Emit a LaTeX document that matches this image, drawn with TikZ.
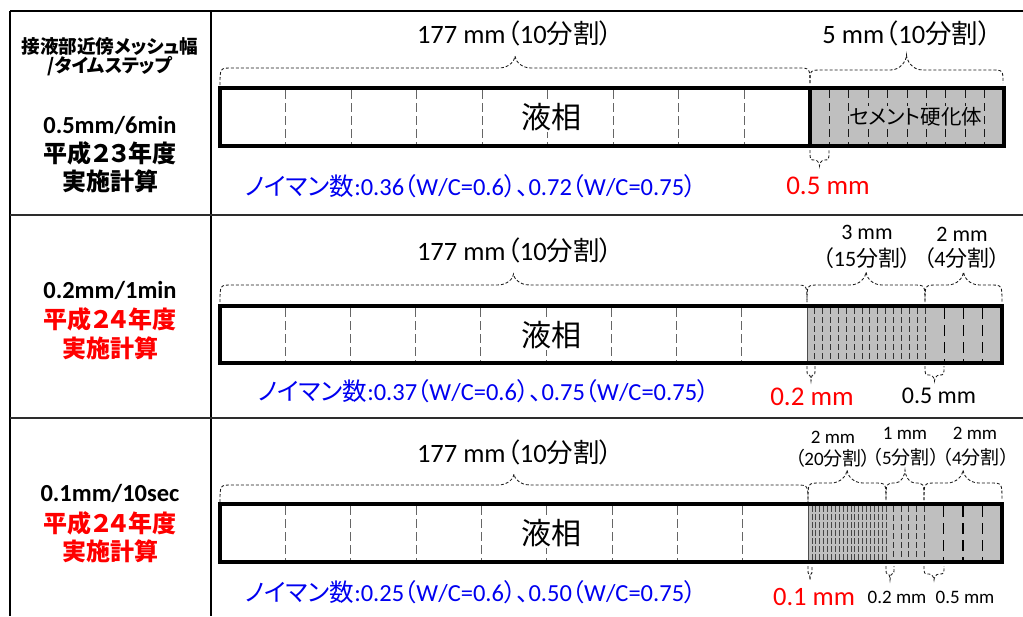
\documentclass[tikz,border=0pt]{standalone}
\usepackage{fontspec}
\setmainfont{Carlito}
\newfontfamily\jp[RawFeature=+palt]{Noto Sans CJK JP}
\definecolor{nblue}{RGB}{0,0,240}
\definecolor{nred}{RGB}{255,0,0}
\definecolor{cem}{RGB}{191,191,191}
\newcommand\fsz[1]{\fontsize{#1}{#1}\selectfont}
\newcommand\dbrace[5]{%
 \pgfmathsetmacro\bxm{(#1+#2)/2}%
 \pgfmathsetmacro\br{min(12,(#2-#1)/4)}%
 \pgfmathsetmacro\bp{min(16,(#2-#1)/4)}%
 \pgfmathsetmacro\bya{#4+0.65*(#5-#4)}%
 \draw[bracesty] (#1,#3) .. controls (#1,#4) .. ({#1+\br},#4) -- ({\bxm-\bp},#4)
   .. controls ({\bxm-0.35*\bp},#4) and (\bxm,\bya) .. (\bxm,#5)
   .. controls (\bxm,\bya) and ({\bxm+0.35*\bp},#4) .. ({\bxm+\bp},#4)
   -- ({#2-\br},#4) .. controls (#2,#4) .. (#2,#3);}
\begin{document}
\begin{tikzpicture}[x=1pt,y=-1pt,
  bar/.style={draw=black,line width=3.5pt},
  liq/.style={draw=gray!80!black,line width=1pt,dash pattern=on 9pt off 4pt},
  cemd/.style={draw=gray!20!black,line width=0.9pt,dash pattern=on 8pt off 5pt},
  ftwo/.style={draw=gray!40!black,line width=0.9pt,dash pattern=on 6pt off 3pt},
  fone/.style={draw=gray!55!black,line width=0.7pt,dash pattern=on 6pt off 2pt},
  ffive/.style={draw=black,line width=1.1pt,dash pattern=on 11pt off 6pt},
  bracesty/.style={draw=gray!20!black,line width=0.85pt,dash pattern=on 3pt off 2pt},
  tline/.style={draw=black,line width=1.2pt},
  rowsep/.style={draw=gray!35!black,line width=2pt},
  lbl/.style={inner sep=0pt},
  nm/.style={inner sep=0pt,anchor=west,text=nblue,font=\fsz{24.5}}]
\useasboundingbox (0,0) rectangle (1023,616);
% table
\draw[tline] (10,11) -- (1023,11);
\draw[tline] (10,11) -- (10,616);
\draw[tline] (211,11) -- (211,616);
\draw[rowsep] (10,215) -- (1023,215);
\draw[rowsep] (10,418) -- (1023,418);
% left column
\node[lbl] (h1) at (110,47) {\jp\bfseries\fsz{18.6}接液部近傍メッシュ幅};
\node[lbl] (h2) at (110,66) {\jp\bfseries\fsz{18.6}/タイムステップ};
\node[lbl] (a1) at (110,125) {\bfseries\fsz{24.5}0.5mm/6min};
\node[lbl] (a2) at (110,153) {\jp\bfseries\fsz{24}平成２３年度};
\node[lbl] (a3) at (110,181) {\jp\bfseries\fsz{24}実施計算};
\node[lbl] (b1) at (110,290) {\bfseries\fsz{24.5}0.2mm/1min};
\node[lbl,text=nred] (b2) at (110,319) {\jp\bfseries\fsz{24}平成２４年度};
\node[lbl,text=nred] (b3) at (110,348) {\jp\bfseries\fsz{24}実施計算};
\node[lbl] (c1) at (110,493) {\bfseries\fsz{24.5}0.1mm/10sec};
\node[lbl,text=nred] (c2) at (110,523) {\jp\bfseries\fsz{24}平成２４年度};
\node[lbl,text=nred] (c3) at (110,551) {\jp\bfseries\fsz{24}実施計算};
% ---------- row 1
\fill[cem] (810,88) rectangle (1004,146);
\foreach \k in {1,...,8} \draw[liq] ({220+\k*590/9},90) -- ({220+\k*590/9},144);
\foreach \k in {1,...,9} \draw[cemd] ({810+\k*19.4},90) -- ({810+\k*19.4},144);
\draw[bar] (220,88) rectangle (810,146);
\draw[bar] (810,88) rectangle (1004,146);
\node[fill=white,inner sep=1pt] (l1) at (551,117) {\jp\fsz{30}液相};
\node[fill=cem,inner xsep=0pt,inner ysep=2pt] (s1) at (916,117) {\jp\fsz{20.5}セメント硬化体};
\dbrace{220}{810}{85}{68}{56}
\dbrace{810}{1003}{83}{70}{55}
\dbrace{810}{829}{150}{160}{166}
\node[lbl] (t1) at (515,33) {\fsz{26.5}177 mm\kern1pt{\jp （}10{\jp 分割）}};
\node[lbl] (u1) at (907,33) {\fsz{26.5}5 mm\kern1pt{\jp （}10{\jp 分割）}};
\node[lbl,text=nred] (r1) at (828,186) {\fsz{27}0.5 mm};
\node[nm] (n1) at (245,186) {{\jp ノイマン数}:0.36{\jp （}W/C=0.6{\jp ）、}0.72{\jp （}W/C=0.75{\jp ）}};
% ---------- row 2
\fill[cem] (807,306) rectangle (1002,363);
\foreach \k in {1,...,8} \draw[liq] ({220+\k*587/9},308) -- ({220+\k*587/9},361);
\foreach \k in {1,...,15} \draw[ftwo] ({807+\k*118/15},308) -- ({807+\k*118/15},361);
\foreach \k in {1,...,3} \draw[ffive] ({925+\k*77/4},308) -- ({925+\k*77/4},361);
\draw[bar] (220,306) rectangle (1002,363);
\draw[gray!60!black,line width=1pt] (807,308) -- (807,361);
\node[fill=white,inner sep=1pt] (l2) at (551,335) {\jp\fsz{30}液相};
\dbrace{220}{807}{302}{285}{274}
\dbrace{807}{925}{302}{285}{272}
\dbrace{925}{1002}{302}{285}{272}
\dbrace{807}{815}{366}{375}{381}
\dbrace{925}{944}{366}{375}{381}
\node[lbl] (t2) at (515,250) {\fsz{26.5}177 mm\kern1pt{\jp （}10{\jp 分割）}};
\node[lbl] (p2a) at (867,232) {\fsz{22}3 mm};
\node[lbl] (p2b) at (867,258) {\fsz{22}{\jp （}15{\jp 分割）}};
\node[lbl] (q2a) at (962,234) {\fsz{22}2 mm};
\node[lbl] (q2b) at (962,258) {\fsz{22}{\jp （}4{\jp 分割）}};
\node[lbl,text=nred] (r2) at (812,397) {\fsz{27}0.2 mm};
\node[lbl] (k2) at (939,396) {\fsz{24}0.5 mm};
\node[nm] (n2) at (258,391) {{\jp ノイマン数}:0.37{\jp （}W/C=0.6{\jp ）、}0.75{\jp （}W/C=0.75{\jp ）}};
% ---------- row 3
\fill[cem] (808,504) rectangle (1002,562);
\foreach \k in {1,...,8} \draw[liq] ({220+\k*588/9},506) -- ({220+\k*588/9},560);
\foreach \k in {1,...,20} \draw[fone] ({808+\k*78/20},506) -- ({808+\k*78/20},560);
\foreach \k in {1,...,5} \draw[ftwo] ({886+\k*38/5},506) -- ({886+\k*38/5},560);
\foreach \k in {1,...,3} \draw[ffive] ({924+\k*78/4},506) -- ({924+\k*78/4},560);
\draw[bar] (220,504) rectangle (1002,562);
\draw[gray!60!black,line width=1pt] (808,506) -- (808,560);
\node[fill=white,inner sep=1pt] (l3) at (551,533) {\jp\fsz{30}液相};
\dbrace{220}{808}{502}{485}{474}
\dbrace{808}{886}{500}{483}{470}
\dbrace{886}{924}{500}{483}{470}
\dbrace{924}{1002}{500}{483}{470}
\dbrace{808}{812}{566}{574}{580}
\dbrace{886}{894}{566}{574}{580}
\dbrace{924}{944}{566}{574}{580}
\node[lbl] (t3) at (515,452) {\fsz{26.5}177 mm\kern1pt{\jp （}10{\jp 分割）}};
\node[lbl] (p3a) at (833,437) {\fsz{19}2 mm};
\node[lbl] (p3b) at (833,458) {\fsz{19}{\jp （}20{\jp 分割）}};
\node[lbl] (m3a) at (905,433) {\fsz{19}1 mm};
\node[lbl] (m3b) at (906,457) {\fsz{19}{\jp （}5{\jp 分割）}};
\node[lbl] (q3a) at (975,433) {\fsz{19}2 mm};
\node[lbl] (q3b) at (976,457) {\fsz{19}{\jp （}4{\jp 分割）}};
\node[lbl,text=nred] (r3) at (814,597) {\fsz{26.5}0.1 mm};
\node[lbl] (k3a) at (897,597) {\fsz{19}0.2 mm};
\node[lbl] (k3b) at (965,597) {\fsz{19}0.5 mm};
\node[nm] (n3) at (245,592) {{\jp ノイマン数}:0.25{\jp （}W/C=0.6{\jp ）、}0.50{\jp （}W/C=0.75{\jp ）}};
\end{tikzpicture}
\end{document}
